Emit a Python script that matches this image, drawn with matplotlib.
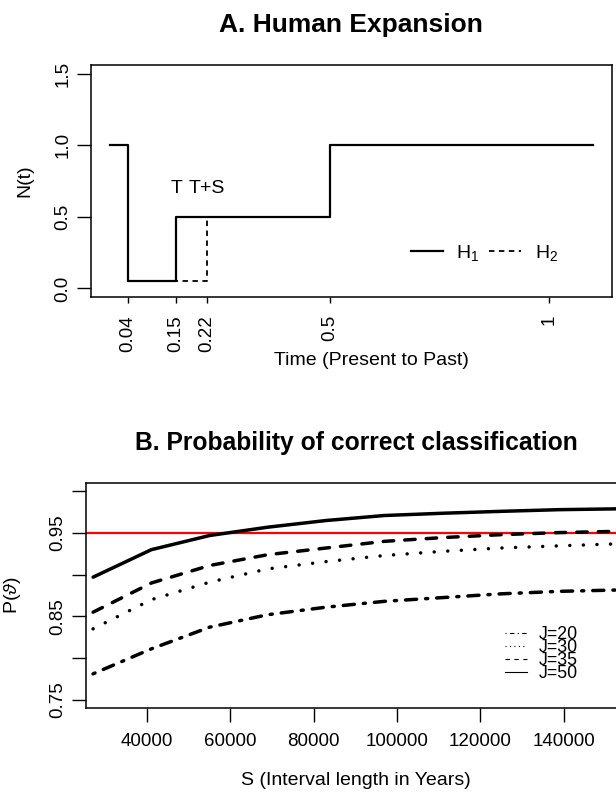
import matplotlib
matplotlib.use("Agg")
import matplotlib.pyplot as plt
from matplotlib.lines import Line2D

plt.rcParams['font.family'] = ['Liberation Sans', 'DejaVu Sans']
plt.rcParams['mathtext.fontset'] = 'custom'
plt.rcParams['mathtext.rm'] = 'Liberation Sans'
plt.rcParams['mathtext.it'] = 'Liberation Sans:italic'

# Panel A: population size history (step functions)
time_h1 = [0, 0.04, 0.15, 0.5, 1.1]
size_h1 = [1, 0.05, 0.5, 1, 1]
time_h2 = [0, 0.04, 0.22, 0.5, 1.1]
size_h2 = [1, 0.05, 0.5, 1, 1]
time_ticks = [0.04, 0.15, 0.22, 0.5, 1]
time_tick_labels = ["0.04", "0.15", "0.22", "0.5", "1"]
size_ticks = [0, 0.5, 1.0, 1.5]
size_tick_labels = ["0.0", "0.5", "1.0", "1.5"]

# Panel B: probability of correct classification vs interval length S
interval_s = [27000, 41000, 55000, 69000, 83000, 97000, 111000, 125000, 139000, 153000]
p_j20 = [0.781, 0.811, 0.837, 0.852, 0.861, 0.868, 0.8725, 0.877, 0.880, 0.8816]
p_j30 = [0.835, 0.870, 0.891, 0.907, 0.9157, 0.923, 0.928, 0.932, 0.9346, 0.937]
p_j35 = [0.855, 0.890, 0.911, 0.924, 0.932, 0.940, 0.9445, 0.948, 0.9505, 0.952]
p_j50 = [0.897, 0.930, 0.947, 0.957, 0.965, 0.971, 0.9737, 0.976, 0.978, 0.979]
threshold = 0.95
s_ticks = [40000, 60000, 80000, 100000, 120000, 140000]
p_ticks = [0.75, 0.80, 0.85, 0.90, 0.95, 1.00]
p_tick_labels = ["0.75", "", "0.85", "", "0.95", ""]

W, H = 616, 796
fig = plt.figure(figsize=(W / 100, H / 100), dpi=100)

# ---------------- Panel A ----------------
axA = fig.add_axes([91 / W, 1 - 297 / H, 521 / W, 232 / H])
axA.step(time_h2, size_h2, where='post', color='black', lw=1.3,
         linestyle=(0, (3, 2.5)), zorder=2)
axA.step(time_h1, size_h1, where='post', color='black', lw=1.6, zorder=3)
axA.set_xlim(-0.044, 1.144)
axA.set_ylim(-0.06, 1.56)
axA.set_xticks(time_ticks)
axA.set_xticklabels(time_tick_labels, rotation=90, fontsize=13.5)
axA.set_yticks(size_ticks)
axA.set_yticklabels(size_tick_labels, rotation=90, va='center', fontsize=13.5)
axA.tick_params(axis='x', length=4, width=1, pad=9)
axA.tick_params(axis='y', length=10, width=1, pad=4)
axA.text(0.15, 0.7, "T", ha='center', va='center', fontsize=14)
axA.text(0.22, 0.7, "T+S", ha='center', va='center', fontsize=14)
axA.set_xlabel("Time (Present to Past)", fontsize=14)
axA.xaxis.set_label_coords((371 - 91) / 521, -0.237)
axA.set_ylabel("N(t)", fontsize=14)
axA.yaxis.set_label_coords(-0.110, 0.5)
handlesA = [Line2D([], [], color='black', lw=1.6),
            Line2D([], [], color='black', lw=1.3, linestyle=(0, (3, 2.5)))]
axA.legend(handlesA, ["H$_1$", "H$_2$"], ncol=2, frameon=False, fontsize=14,
           loc='center', bbox_to_anchor=(0.755, 0.19), borderpad=0,
           handlelength=1.65, handletextpad=0.7, columnspacing=0.5)
for sp in axA.spines.values():
    sp.set_linewidth(1.1)
fig.text(351 / W, 1 - 25 / H, "A. Human Expansion", ha='center', va='center',
         fontsize=19, fontweight='bold')

# ---------------- Panel B ----------------
axB = fig.add_axes([86 / W, 1 - 708 / H, 540 / W, 225 / H])
axB.axhline(threshold, color='red', lw=1.6, zorder=1)
axB.plot(interval_s, p_j20, color='black', lw=2.5, solid_capstyle='round',
         dash_capstyle='round', linestyle=(0, (0.6, 2.6, 3.2, 2.6)))
axB.plot(interval_s, p_j30, color='black', lw=2.5, dash_capstyle='round',
         linestyle=(0, (0.01, 3.9)))
axB.plot(interval_s, p_j35, color='black', lw=2.5, dash_capstyle='round',
         linestyle=(0, (3.0, 3.2)))
axB.plot(interval_s, p_j50, color='black', lw=2.5, solid_capstyle='round')
axB.set_xlim(25300, 155000)
axB.set_ylim(0.74, 1.01)
axB.set_xticks(s_ticks)
axB.set_xticklabels([str(s) for s in s_ticks], fontsize=13.5)
axB.set_yticks(p_ticks)
axB.set_yticklabels(p_tick_labels, rotation=90, va='center', fontsize=13.5)
axB.tick_params(axis='x', length=10, width=1, pad=8)
axB.tick_params(axis='y', length=10, width=1, pad=4)
axB.set_xlabel("S (Interval length in Years)", fontsize=14)
axB.xaxis.set_label_coords(0.5, -0.284)
axB.set_ylabel(r"P($\vartheta$)", fontsize=14)
axB.yaxis.set_label_coords(-0.117, 0.502)
handlesB = [Line2D([], [], color='black', lw=0.8, linestyle=(0, (1, 3, 4, 3))),
            Line2D([], [], color='black', lw=0.8, linestyle=(0, (1, 3))),
            Line2D([], [], color='black', lw=0.8, linestyle=(0, (4, 4))),
            Line2D([], [], color='black', lw=0.8)]
axB.legend(handlesB, ["J=20", "J=30", "J=35", "J=50"], frameon=False,
           fontsize=12.8, loc='upper left', bbox_to_anchor=(0.776, 0.365),
           borderpad=0, borderaxespad=0, handlelength=1.26,
           handletextpad=0.63, labelspacing=-0.22)
for sp in axB.spines.values():
    sp.set_linewidth(1.1)
fig.text(356 / W, 1 - 443 / H, "B. Probability of correct classification",
         ha='center', va='center', fontsize=17.7, fontweight='bold')

fig.savefig("out.png", dpi=100)
